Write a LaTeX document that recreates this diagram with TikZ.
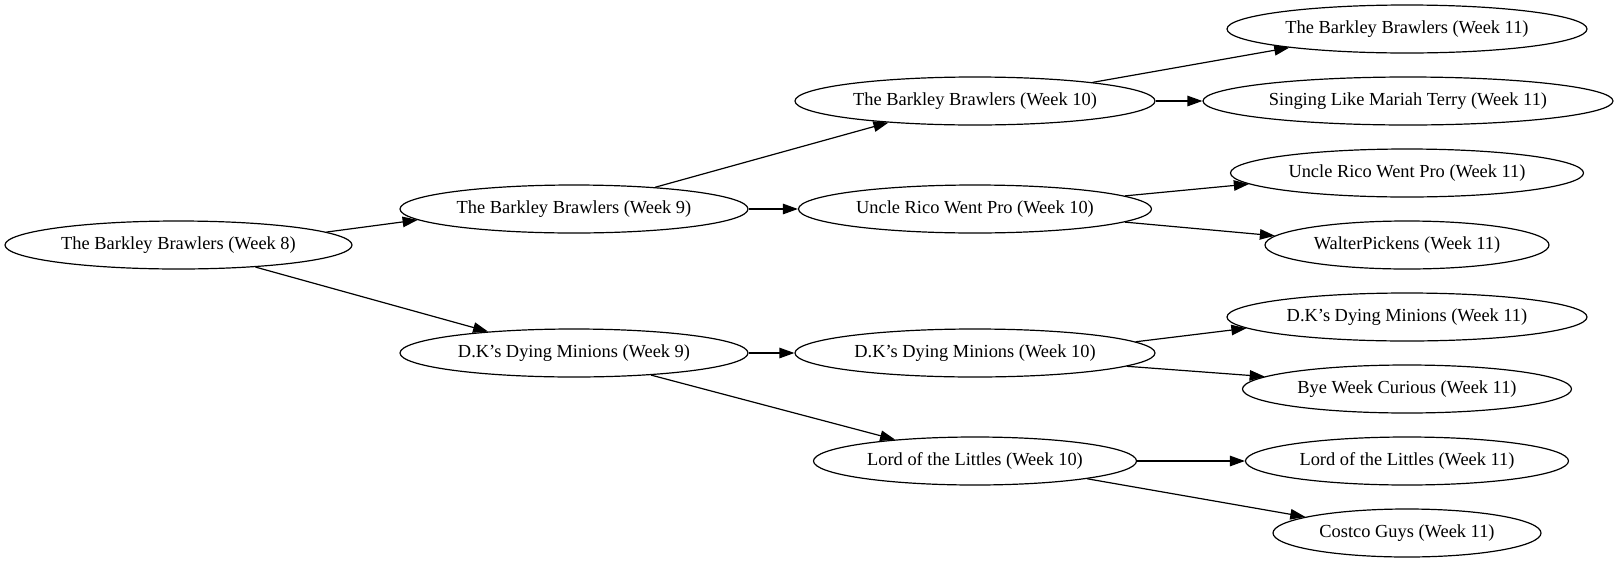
\documentclass[tikz,border=0pt]{standalone}
\usepackage{fontspec}
\setmainfont{Liberation Serif}
\usetikzlibrary{shapes.geometric,arrows.meta}
\begin{document}
\begin{tikzpicture}[x=1pt,y=-1pt,
  team/.style={draw=black,line width=1.2pt,ellipse,inner sep=0pt,minimum height=48pt,font=\fontsize{18.4}{22}\selectfont},
  edge/.style={draw=black,line width=1.2pt,-{Triangle[length=15pt,width=10.5pt]}}]
\useasboundingbox[fill=white] (0,0) rectangle (1617,563);
% week 8
\node[team,minimum width=347pt] (w8) at (178.5,245) {The Barkley Brawlers (Week 8)};
% week 9
\node[team,minimum width=348pt] (bb9) at (574,209) {The Barkley Brawlers (Week 9)};
\node[team,minimum width=348pt] (dk9) at (574,353) {D.K’s Dying Minions (Week 9)};
% week 10
\node[team,minimum width=360pt] (bb10) at (975,101) {The Barkley Brawlers (Week 10)};
\node[team,minimum width=353pt] (ur10) at (975,209) {Uncle Rico Went Pro (Week 10)};
\node[team,minimum width=360pt] (dk10) at (975,353) {D.K’s Dying Minions (Week 10)};
\node[team,minimum width=323pt] (ll10) at (975,461) {Lord of the Littles (Week 10)};
% week 11
\node[team,minimum width=360pt] (bb11) at (1407,29) {The Barkley Brawlers (Week 11)};
\node[team,minimum width=410pt] (sl11) at (1408,101) {Singing Like Mariah Terry (Week 11)};
\node[team,minimum width=353pt] (ur11) at (1407,173) {Uncle Rico Went Pro (Week 11)};
\node[team,minimum width=284pt] (wp11) at (1407,245) {WalterPickens (Week 11)};
\node[team,minimum width=360pt] (dk11) at (1407,317) {D.K’s Dying Minions (Week 11)};
\node[team,minimum width=329pt] (bw11) at (1407,389) {Bye Week Curious (Week 11)};
\node[team,minimum width=323pt] (ll11) at (1407,461) {Lord of the Littles (Week 11)};
\node[team,minimum width=268pt] (cg11) at (1407,533) {Costco Guys (Week 11)};
% edges
\draw[edge] (w8.5) -- (bb9.184.3);
\draw[edge] (w8.344.9) -- (dk9.166);
\draw[edge] (bb9.15.2) -- (bb10.194.8);
\draw[edge] (bb9.east) -- (ur10.west);
\draw[edge] (dk9.east) -- (dk10.west);
\draw[edge] (dk9.344.8) -- (ll10.165.3);
\draw[edge] (bb10.9.4) -- (bb11.189);
\draw[edge] (bb10.east) -- (sl11.west);
\draw[edge] (ur10.5) -- (ur11.184.1);
\draw[edge] (ur10.355.2) -- (wp11.176);
\draw[edge] (dk10.4.4) -- (dk11.184.4);
\draw[edge] (dk10.355.1) -- (bw11.175.6);
\draw[edge] (ll10.east) -- (ll11.west);
\draw[edge] (ll10.351.2) -- (cg11.171.5);
\end{tikzpicture}
\end{document}
